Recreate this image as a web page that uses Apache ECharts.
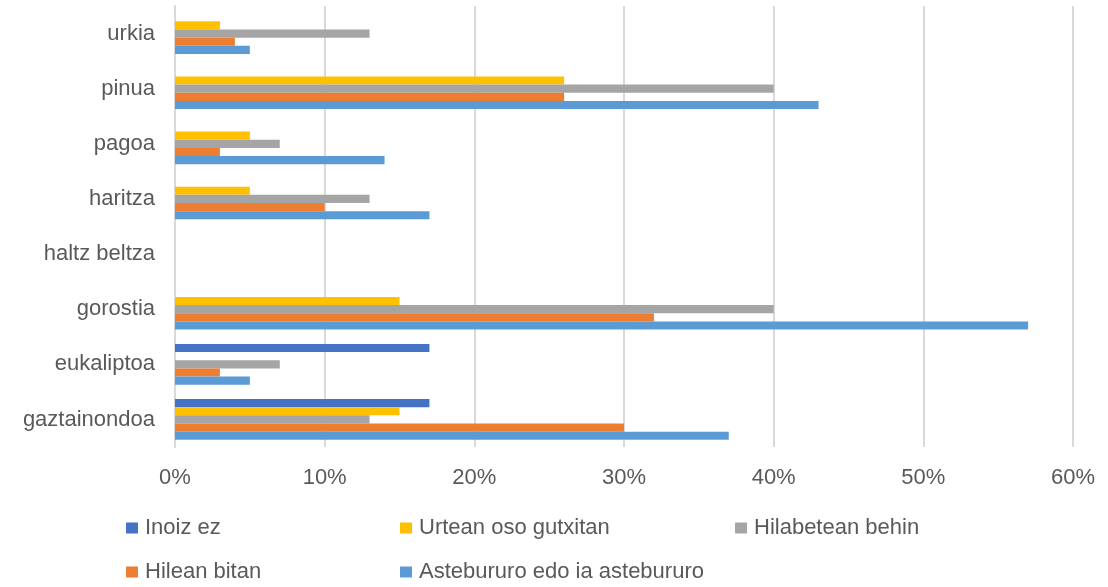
<!DOCTYPE html>
<html>
<head>
<meta charset="utf-8">
<script src="https://cdn.jsdelivr.net/npm/echarts@6/dist/echarts.min.js"></script>
<style>
html,body{margin:0;padding:0;background:#fff;}
#chart{width:1108px;height:587px;}
</style>
</head>
<body>
<div id="chart"></div>
<script>
// categories listed bottom to top
var categories = ['gaztainondoa','eukaliptoa','gorostia','haltz beltza','haritza','pagoa','pinua','urkia'];
var seriesNames = ['Inoiz ez','Urtean oso gutxitan','Hilabetean behin','Hilean bitan','Astebururo edo ia astebururo'];
var seriesColors = ['#4472C4','#FFC000','#A5A5A5','#ED7D31','#5B9BD5'];
var inoizEz     = [17,17, 0,0, 0, 0, 0, 0];
var urtean      = [15, 0,15,0, 5, 5,26, 3];
var hilabetean  = [13, 7,40,0,13, 7,40,13];
var hilean      = [30, 3,32,0,10, 3,26, 4];
var astebururo  = [37, 5,57,0,17,14,43, 5];
var xTicks = [0,10,20,30,40,50,60];

var values = [inoizEz, urtean, hilabetean, hilean, astebururo];
var font = "'Liberation Sans', Arial, sans-serif";
var textColor = '#595959';
var fs = 22;

var series = seriesNames.map(function(n, i){
  return {
    name: n, type: 'bar', data: values[i],
    itemStyle: {color: seriesColors[i]},
    barGap: 0, barCategoryGap: '26%',
    animation: false
  };
});

var legendPos = [[126,517],[400,517],[735,517],[126,561],[400,561]];
var legends = seriesNames.map(function(n, i){
  return {
    data: [n], left: legendPos[i][0], top: legendPos[i][1], padding: 0,
    icon: 'rect', itemWidth: 12, itemHeight: 11,
    textStyle: {fontFamily: font, fontSize: fs, color: textColor, padding: [0,0,0,2]}
  };
});

var chart = echarts.init(document.getElementById('chart'));
chart.setOption({
  animation: false,
  grid: {left: 175, right: 35, top: 6, bottom: 140, containLabel: false},
  legend: legends,
  xAxis: {
    type: 'value', min: xTicks[0], max: xTicks[xTicks.length-1], interval: 10,
    axisLine: {show: false}, axisTick: {show: false},
    splitLine: {lineStyle: {color: '#D9D9D9', width: 2}},
    axisLabel: {formatter: '{value}%', fontFamily: font, fontSize: fs, color: textColor, margin: 20}
  },
  yAxis: {
    type: 'category', data: categories,
    axisLine: {lineStyle: {color: '#D9D9D9', width: 2}}, axisTick: {show: false},
    axisLabel: {fontFamily: font, fontSize: fs, color: textColor, margin: 20}
  },
  series: series
});
</script>
</body>
</html>
